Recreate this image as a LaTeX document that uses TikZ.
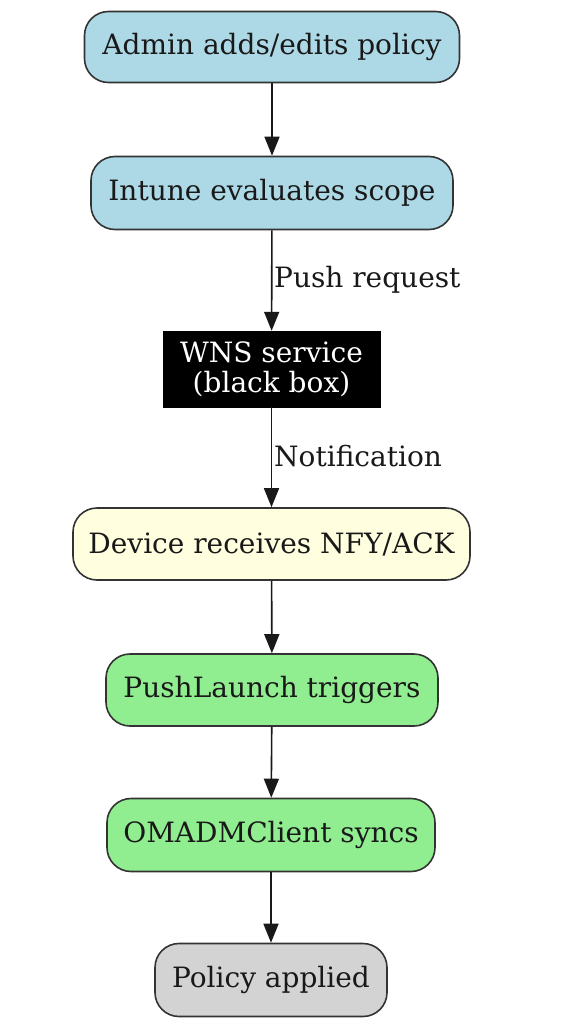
\documentclass[tikz,border=0pt]{standalone}
\usepackage{fontspec}
\setmainfont{DejaVu Serif}
\usetikzlibrary{arrows.meta}
\definecolor{bblue}{HTML}{ADD8E6}
\definecolor{byellow}{HTML}{FFFFE0}
\definecolor{bgreen}{HTML}{90EE90}
\definecolor{bgrey}{HTML}{D3D3D3}
\definecolor{edgec}{HTML}{333333}
\begin{document}
\begin{tikzpicture}[x=1pt,y=-1pt,
  base/.style={draw=edgec, line width=1.6pt, rounded corners=24pt, inner sep=0pt,
    font=\fontsize{28}{31}\selectfont, text=black!90},
  bluebox/.style={base, fill=bblue},
  yellowbox/.style={base, fill=byellow},
  greenbox/.style={base, fill=bgreen},
  greybox/.style={base, fill=bgrey},
  blackbox/.style={fill=black, draw=black, inner sep=0pt, text=white, align=center,
    font=\fontsize{28}{30}\selectfont},
  conn/.style={draw=black!90, line width=1.6pt, -{Triangle[length=19pt,width=15pt]}},
  elabel/.style={anchor=west, font=\fontsize{28}{31}\selectfont, text=black!90, inner sep=0pt}
]
\useasboundingbox (0,0) rectangle (578,1024);
\fill[white] (0,0) rectangle (578,1024);

\node[bluebox, minimum width=375pt, minimum height=71pt] (admin) at (272,47) {Admin adds/edits policy};
\node[bluebox, minimum width=362pt, minimum height=73pt] (intune) at (272,193) {Intune evaluates scope};
\node[blackbox, minimum width=217pt, minimum height=76pt] (wns) at (271.5,369) {WNS service\\(black box)};
\node[yellowbox, minimum width=397pt, minimum height=72pt] (device) at (271.5,544) {Device receives NFY/ACK};
\node[greenbox, minimum width=332pt, minimum height=72pt] (push) at (272,690) {PushLaunch triggers};
\node[greenbox, minimum width=328pt, minimum height=73pt] (omadm) at (271,835) {OMADMClient syncs};
\node[greybox, minimum width=232pt, minimum height=73pt] (policy) at (271,980) {Policy applied};

\draw[conn] (admin) -- (intune);
\draw[conn] (intune) -- (wns);
\draw[conn] (wns) -- (device);
\draw[conn] (device) -- (push);
\draw[conn] (push) -- (omadm);
\draw[conn] (omadm) -- (policy);

\node[elabel] (lpush) at (274,280) {Push request};
\node[elabel] (lnote) at (274,456) {Notification};
\end{tikzpicture}
\end{document}
